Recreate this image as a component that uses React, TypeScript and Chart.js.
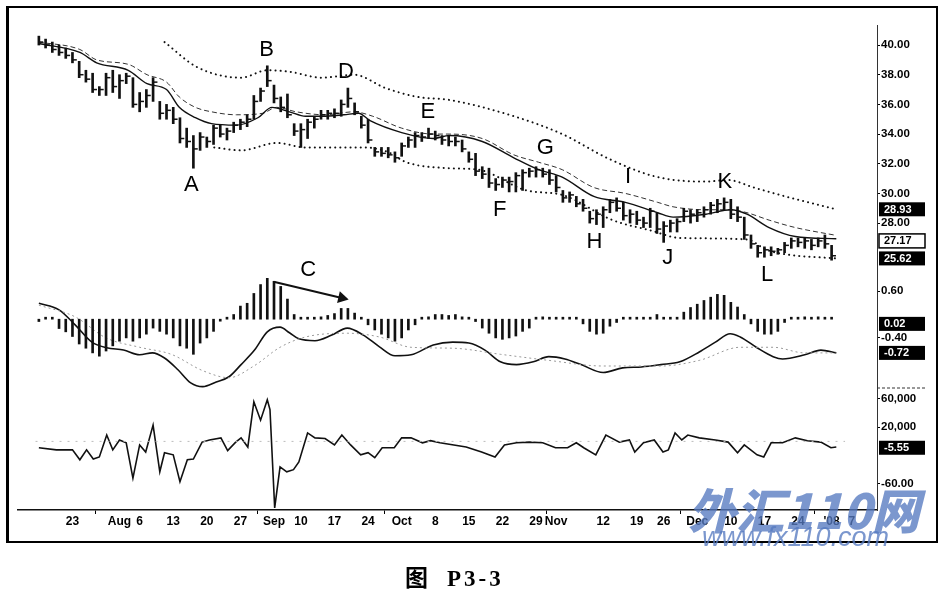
import React, { useEffect, useRef } from 'react';
import { Chart, registerables } from 'chart.js';

Chart.register(...registerables);

// one bar per trading day, index 0 = Jul 16 2007
const highs = [
  40.6, 40.4, 40.2, 40.0, 39.8, 39.5, 38.9, 38.3, 38.1, 37.2, 38.1, 38.3, 38.0, 38.1, 37.8, 36.8, 37.0, 37.8, 36.2, 36.0,
  35.8, 35.1, 34.4, 33.9, 34.1, 33.8, 34.6, 34.6, 34.4, 34.8, 35.0, 35.3, 36.6, 37.1, 38.6, 37.3, 36.5, 36.7, 34.7, 34.7,
  35.0, 35.2, 35.6, 35.6, 35.7, 36.3, 37.1, 36.1, 35.2, 35.0, 33.1, 33.1, 33.1, 32.8, 33.4, 33.8, 34.1, 34.1, 34.4, 34.2,
  33.9, 33.9, 33.8, 33.6, 32.8, 32.7, 31.8, 31.7, 31.0, 31.1, 31.1, 31.4, 31.6, 31.7, 31.8, 31.7, 31.6, 31.2, 30.2, 30.1,
  29.8, 29.6, 28.8, 28.9, 29.1, 29.6, 29.7, 29.4, 28.9, 28.8, 28.4, 29.0, 28.7, 28.1, 28.2, 28.3, 29.0, 28.9, 28.9, 29.1,
  29.4, 29.6, 29.7, 29.6, 29.1, 28.4, 27.2, 26.5, 26.4, 26.4, 26.3, 26.7, 27.0, 27.0, 27.0, 26.9, 27.0, 27.2, 26.5,
];
const lows = [
  40.0, 39.8, 39.5, 39.3, 39.1, 38.8, 37.8, 37.5, 36.8, 36.6, 36.6, 36.8, 36.4, 37.4, 35.8, 35.5, 35.8, 36.2, 35.0, 35.0,
  34.7, 33.4, 33.1, 31.7, 32.9, 33.1, 33.3, 33.8, 33.6, 34.1, 34.3, 34.5, 35.0, 36.2, 37.2, 36.1, 35.5, 35.1, 33.9, 33.1,
  33.7, 34.4, 35.0, 35.0, 35.1, 35.2, 35.8, 35.3, 34.4, 33.4, 32.5, 32.5, 32.4, 32.1, 32.5, 33.1, 33.1, 33.5, 33.7, 33.6,
  33.3, 33.2, 33.2, 32.8, 32.1, 31.2, 31.0, 30.4, 30.2, 30.4, 30.1, 30.1, 30.2, 31.1, 31.1, 31.1, 30.6, 30.1, 29.4, 29.4,
  29.1, 28.8, 28.0, 27.9, 27.7, 28.7, 28.8, 28.2, 28.0, 27.9, 27.7, 27.7, 27.3, 26.7, 27.4, 27.4, 28.1, 28.0, 28.1, 28.4,
  28.6, 28.7, 28.9, 28.3, 28.1, 26.9, 26.3, 25.7, 25.7, 25.8, 25.9, 26.0, 26.3, 26.4, 26.3, 26.2, 26.4, 26.3, 25.5,
];
const closes = [
  40.2, 40.0, 39.7, 39.5, 39.3, 39.0, 38.0, 37.7, 37.0, 37.0, 37.8, 37.2, 37.6, 37.9, 36.0, 36.2, 36.6, 37.5, 35.4, 35.6,
  35.0, 33.7, 33.5, 33.0, 33.8, 33.5, 34.4, 34.0, 34.2, 34.6, 34.8, 35.0, 36.2, 36.9, 37.6, 36.4, 35.8, 35.3, 34.2, 34.3,
  34.8, 35.0, 35.3, 35.4, 35.4, 36.0, 36.4, 35.5, 34.6, 33.6, 32.8, 32.7, 32.6, 32.4, 33.2, 33.6, 33.9, 33.8, 34.0, 33.9,
  33.6, 33.5, 33.5, 33.0, 32.3, 31.5, 31.3, 30.7, 30.6, 30.9, 30.8, 31.2, 31.4, 31.5, 31.6, 31.3, 30.9, 30.4, 29.7, 29.9,
  29.3, 29.0, 28.3, 28.6, 28.9, 29.4, 29.0, 28.5, 28.6, 28.2, 28.0, 28.8, 27.6, 27.8, 28.0, 28.1, 28.8, 28.6, 28.7, 28.9,
  29.2, 29.3, 29.4, 28.6, 28.4, 27.2, 26.6, 26.0, 26.2, 26.1, 26.2, 26.5, 26.8, 26.7, 26.8, 26.5, 26.8, 26.6, 25.8,
];

// [bar index, value]
const maFast = [
  [0, 40.1], [6.1, 39.5], [8.6, 38.8], [13.3, 38.3], [16.1, 37.4], [19, 37.0], [20.9, 35.8], [23.3, 35.1], [25.7, 34.7],
  [29.4, 34.6], [32.6, 35.1], [34.7, 35.8], [37.3, 35.5], [39.7, 35.2], [42.1, 35.2], [45.4, 35.3], [47.6, 35.4],
  [49.3, 34.9], [54, 34.1], [58.7, 33.7], [61.1, 33.9], [66, 33.5], [70.7, 32.4], [74.4, 31.6], [77.9, 31.1],
  [82.6, 29.8], [87.3, 29.4], [92.1, 28.7], [94.4, 28.4], [99.3, 28.6], [103, 28.9], [105.4, 28.6], [108.7, 27.7],
  [112.6, 27.1], [118.7, 26.95],
];
const maSlow = [
  [0, 40.2], [6.1, 39.7], [8.6, 39.0], [13.3, 38.7], [16.1, 38.0], [19, 37.5], [20.9, 36.5], [23.3, 35.8], [25.7, 35.5],
  [29.4, 35.3], [33.3, 35.4], [35.4, 35.8], [38.3, 35.5], [42.6, 35.3], [46.9, 35.5], [49.7, 35.2], [54, 34.4],
  [58.7, 34.0], [61.1, 34.0], [66, 33.7], [70.7, 32.6], [74.4, 32.1], [77.9, 31.6], [82.6, 30.4], [87.3, 30.0],
  [92.1, 29.4], [94.4, 29.1], [99.3, 28.9], [103, 28.9], [105.4, 28.7], [108.7, 28.2], [112.6, 27.7], [118.7, 27.17],
];
const upperBand = [
  [18.7, 40.2], [23.6, 38.5], [30.1, 37.8], [34, 38.3], [37.3, 38.2], [42.1, 37.8], [46.9, 38.0], [51.6, 37.1],
  [56.4, 36.5], [61.1, 36.3], [70.7, 35.2], [77.9, 34.0], [85, 32.3], [92.1, 31.1], [99.3, 30.8], [102.6, 30.9],
  [106.4, 30.4], [111.1, 29.8], [118.7, 28.93],
];
const lowerBand = [
  [26.1, 33.1], [30.1, 32.9], [35.4, 33.4], [39.7, 33.1], [48.3, 33.1], [51.9, 32.8], [54.7, 32.1], [61.1, 31.7],
  [65.4, 31.6], [72.6, 30.2], [77.9, 29.9], [85.4, 28.2], [91.1, 27.5], [95.4, 27.0], [105.4, 26.9], [108.3, 26.2],
  [111.1, 25.9], [118.7, 25.62],
];

const histogram = [
  -0.05, 0.02, 0.02, -0.2, -0.27, -0.37, -0.53, -0.62, -0.72, -0.79, -0.68, -0.57, -0.47, -0.4, -0.47, -0.4, -0.32, -0.19, -0.26, -0.32,
  -0.4, -0.57, -0.62, -0.75, -0.51, -0.4, -0.26, -0.04, 0.02, 0.1, 0.28, 0.34, 0.55, 0.74, 0.96, 0.81, 0.7, 0.43, 0.1, 0.03,
  0.02, 0.03, 0.05, 0.08, 0.12, 0.23, 0.23, 0.13, 0.03, -0.12, -0.23, -0.32, -0.4, -0.47, -0.4, -0.23, -0.12, 0.02, 0.05, 0.1,
  0.1, 0.08, 0.1, 0.05, 0.03, -0.05, -0.19, -0.3, -0.4, -0.43, -0.4, -0.36, -0.26, -0.19, 0.02, 0.05, 0.02, 0.03, 0.02, 0.02,
  0.02, -0.1, -0.26, -0.32, -0.3, -0.15, -0.07, 0.02, 0.02, 0.03, 0.02, 0.02, 0.1, 0.02, 0.02, 0.03, 0.15, 0.25, 0.32, 0.4,
  0.47, 0.53, 0.51, 0.36, 0.26, 0.1, -0.1, -0.26, -0.32, -0.32, -0.26, -0.07, 0.02, 0.02, 0.05, 0.02, 0.05, 0.04, 0.02,
];
const macdLine = [
  [0, 0.34], [3, 0.2], [5.4, -0.12], [7.9, -0.49], [10.1, -0.61], [12.6, -0.66], [15, -0.76], [16.9, -0.72], [18.7, -0.83],
  [20.7, -1.08], [22.6, -1.36], [24.4, -1.44], [26.4, -1.34], [28.3, -1.23], [30.1, -0.97], [32.1, -0.66], [34, -0.27],
  [35.9, -0.17], [37.3, -0.29], [38.7, -0.42], [41.1, -0.46], [43.6, -0.34], [45.9, -0.19], [48.3, -0.34], [50.7, -0.59],
  [53, -0.78], [55.4, -0.76], [58.7, -0.55], [61.6, -0.49], [64, -0.51], [66.4, -0.66], [68.7, -0.91], [71.1, -0.97],
  [73.6, -0.91], [75.9, -0.8], [78.3, -0.85], [80.7, -0.97], [84, -1.14], [86.9, -1.04], [89.7, -1.02], [92.6, -0.97],
  [95.4, -0.91], [98.3, -0.7], [100.7, -0.49], [102.9, -0.31], [104.4, -0.38], [106.9, -0.61], [109.3, -0.8],
  [110.7, -0.85], [114, -0.76], [116.4, -0.66], [118.7, -0.72],
];
const signalLine = [
  [0, 0.3], [5.4, 0.05], [10, -0.4], [15, -0.6], [19.7, -0.75], [24.4, -1.1], [28.3, -1.25], [32, -1.0], [35.9, -0.6],
  [39.7, -0.38], [45.9, -0.3], [50.7, -0.38], [55.4, -0.6], [61.6, -0.62], [68.7, -0.75], [75.9, -0.88], [84, -1.0],
  [92.6, -1.0], [98.3, -0.88], [104.4, -0.6], [109.3, -0.6], [114, -0.72], [118.7, -0.72],
];
const oscillator = [
  [0, -9], [2.6, -12], [5, -12], [6.1, -26], [7.1, -12], [8.1, -25], [9, -22], [10.1, 9], [11, -12], [12, 2], [13, -2],
  [14, -52], [15, -5], [15.9, -15], [17, 23], [18, -43], [18.7, -16], [20, -19], [21, -57], [22.1, -26], [23, -25],
  [24.3, -1], [25.4, 2], [27.1, 5], [28.1, -13], [29.3, -1], [30.1, 5], [31.1, -8], [32, 56], [33, 30], [34, 59],
  [34.4, 45], [35.1, -94], [35.9, -36], [36.9, -43], [37.9, -40], [38.7, -29], [40, 12], [41.1, 5], [42.6, 4], [44, -5],
  [45.1, 9], [46.4, -5], [47.9, -19], [49, -16], [50, -23], [51.1, -9], [52.9, -9], [54, 5], [55.4, 5], [57.1, -2],
  [58.3, 1], [59.7, -2], [63.6, -8], [65.9, -15], [67.9, -22], [69.3, -5], [71.1, -2], [73, -1], [75, -2], [76.9, -9],
  [78.7, -9], [80, -2], [81.1, -9], [82.9, -19], [84.4, 9], [86.4, -1], [87.9, 2], [88.7, -15], [90, -2], [91.6, 2],
  [92.9, -15], [93.7, -12], [94.7, 12], [95.7, 2], [96.6, 9], [98.3, 5], [100.7, 2], [102.6, -1], [104, -16], [105, -5],
  [106.9, -19], [107.9, -22], [109, -2], [110.7, -2], [112.6, 5], [114.4, 1], [116.4, -1], [117.9, -9], [118.7, -8],
];

const xTickIdx = [5, 12, 15, 20, 25, 30, 35, 39, 44, 49, 54, 59, 64, 69, 74, 77, 84, 89, 93, 98, 103, 108, 113, 118, 121];
const xTickText = ['23', 'Aug', '6', '13', '20', '27', 'Sep', '10', '17', '24', 'Oct', '8', '15', '22', '29', 'Nov', '12', '19', '26', 'Dec', '10', '17', '24', "'08", '7'];
const monthIdx = [12, 35, 54, 77, 98, 118];

const priceTicks = [40, 38, 36, 34, 32, 30, 28];
const macdTicks = [0.6, -0.4];
const macdTickText = ['0.60', '-0.40'];
const oscTicks = [60, 20, -60];
const oscTickText = ['60,000', '20,000', '-60.00'];

// letters on the price panel: [text, bar index, price]
const letters = [
  ['A', 22.7, 30.57], ['B', 33.9, 39.67], ['C', 40.1, 24.84], ['D', 45.7, 38.18], ['E', 57.9, 35.49], ['F', 68.6, 28.88],
  ['G', 75.4, 33.06], ['H', 82.7, 26.73], ['I', 87.7, 31.11], ['J', 93.6, 25.65], ['K', 102.1, 30.77], ['L', 108.4, 24.5],
];
const arrowC = [[35.1, 0.795], [45.1, 0.453]];

// last-value boxes on the right axis: [axis, position, text, dark]
const valueBoxes = [
  ['yP', 28.93, '28.93', true], ['yP', 26.8, '27.17', false], ['yP', 25.62, '25.62', true],
  ['yM', -0.1, '0.02', true], ['yM', -0.72, '-0.72', true], ['yO', -9, '-5.55', true],
];

const FONT = '"Liberation Sans", Arial, sans-serif';
const pts = (a: number[][]) => a.map(([x, y]) => ({ x, y }));

const overlay = {
  id: 'overlay',
  afterDatasetsDraw(chart: any) {
    const { ctx, scales } = chart;
    ctx.save();
    ctx.fillStyle = '#000';
    ctx.font = `22px ${FONT}`;
    ctx.textAlign = 'center';
    ctx.textBaseline = 'middle';
    letters.forEach(([t, x, y]: any) => {
      ctx.fillText(t, scales.x.getPixelForValue(x), scales.yP.getPixelForValue(y));
    });
    ctx.restore();
  },
  afterDraw(chart: any) {
    const { ctx, scales, chartArea } = chart;
    ctx.save();
    const left = chartArea.right + 2;
    ctx.font = `bold 11px ${FONT}`;
    ctx.textBaseline = 'middle';
    ctx.textAlign = 'left';
    valueBoxes.forEach(([axis, at, text, dark]: any) => {
      const y = scales[axis].getPixelForValue(at);
      ctx.fillStyle = dark ? '#000' : '#fff';
      ctx.fillRect(left, y - 7, 46, 14);
      if (!dark) {
        ctx.strokeStyle = '#000';
        ctx.lineWidth = 1.5;
        ctx.strokeRect(left, y - 7, 46, 14);
      }
      ctx.fillStyle = dark ? '#fff' : '#000';
      ctx.fillText(text, left + 5, y + 0.5);
    });
    // separator between the two lower panels in the axis column
    const sep = scales.yO.top;
    ctx.strokeStyle = '#333';
    ctx.lineWidth = 1;
    ctx.setLineDash([3, 2]);
    ctx.beginPath();
    ctx.moveTo(chartArea.right, sep);
    ctx.lineTo(chartArea.right + 48, sep);
    ctx.stroke();
    ctx.restore();
  },
};

const yAxis = (stackWeight: number, min: number, max: number, ticks: number[], label: (v: number) => string) => ({
  type: 'linear',
  position: 'right',
  stack: 'panels',
  stackWeight,
  min,
  max,
  afterBuildTicks: (s: any) => {
    s.ticks = ticks.map((value) => ({ value }));
  },
  afterFit: (s: any) => {
    s.width = 58;
  },
  ticks: { callback: (v: number) => label(v), color: '#000', padding: 1, font: { family: FONT, size: 11.5, weight: 'bold' } },
  grid: { drawOnChartArea: false, tickLength: 3, color: '#000' },
  border: { color: '#333', width: 1, dash: [2, 2] },
});

export default function App() {
  const canvasRef = useRef<HTMLCanvasElement>(null);

  useEffect(() => {
    if (!canvasRef.current) return;
    const chart = new Chart(canvasRef.current, {
      type: 'bar',
      data: {
        datasets: [
          {
            type: 'bar',
            data: highs.map((h, i) => ({ x: i, y: [lows[i], h] })),
            backgroundColor: '#111',
            barThickness: 2,
            grouped: false,
            yAxisID: 'yP',
          },
          {
            type: 'line',
            data: closes.map((c, i) => ({ x: i + 0.35, y: c })),
            showLine: false,
            pointStyle: 'line',
            pointRadius: 2,
            borderColor: '#111',
            borderWidth: 1.5,
            yAxisID: 'yP',
          },
          {
            type: 'line',
            data: pts(maFast),
            borderColor: '#111',
            borderWidth: 1.4,
            pointRadius: 0,
            cubicInterpolationMode: 'monotone',
            yAxisID: 'yP',
          },
          {
            type: 'line',
            data: pts(maSlow),
            borderColor: '#333',
            borderWidth: 1,
            borderDash: [5, 3],
            pointRadius: 0,
            cubicInterpolationMode: 'monotone',
            yAxisID: 'yP',
          },
          {
            type: 'line',
            data: pts(upperBand),
            borderColor: '#111',
            borderWidth: 2,
            borderDash: [0.1, 5],
            borderCapStyle: 'round',
            pointRadius: 0,
            cubicInterpolationMode: 'monotone',
            yAxisID: 'yP',
          },
          {
            type: 'line',
            data: pts(lowerBand),
            borderColor: '#111',
            borderWidth: 2,
            borderDash: [0.1, 5],
            borderCapStyle: 'round',
            pointRadius: 0,
            cubicInterpolationMode: 'monotone',
            yAxisID: 'yP',
          },
          {
            type: 'bar',
            data: histogram.map((v, i) => ({ x: i, y: v })),
            backgroundColor: '#111',
            barThickness: 2,
            minBarLength: 2,
            grouped: false,
            yAxisID: 'yM',
          },
          {
            type: 'line',
            data: pts(signalLine),
            borderColor: '#999',
            borderWidth: 1,
            borderDash: [2, 3],
            pointRadius: 0,
            cubicInterpolationMode: 'monotone',
            yAxisID: 'yM',
          },
          {
            type: 'line',
            data: pts(macdLine),
            borderColor: '#111',
            borderWidth: 1.6,
            pointRadius: 0,
            cubicInterpolationMode: 'monotone',
            yAxisID: 'yM',
          },
          {
            type: 'line',
            data: pts(arrowC),
            borderColor: '#111',
            borderWidth: 2,
            pointRadius: [0, 5],
            pointStyle: 'triangle',
            rotation: 103,
            backgroundColor: '#111',
            yAxisID: 'yM',
          },
          {
            type: 'line',
            data: [{ x: -0.5, y: 0 }, { x: 120, y: 0 }],
            borderColor: '#bbb',
            borderWidth: 1,
            borderDash: [2, 6],
            pointRadius: 0,
            yAxisID: 'yO',
          },
          {
            type: 'line',
            data: pts(oscillator),
            borderColor: '#111',
            borderWidth: 1.6,
            pointRadius: 0,
            tension: 0,
            yAxisID: 'yO',
          },
        ],
      } as any,
      options: {
        animation: false,
        responsive: false,
        layout: { padding: { left: 18, right: 8, top: 25, bottom: 60 } },
        plugins: { legend: { display: false }, tooltip: { enabled: false } },
        scales: {
          x: {
            type: 'linear',
            min: -0.55,
            max: 122.2,
            afterBuildTicks: (s: any) => {
              s.ticks = xTickIdx.map((value) => ({ value }));
            },
            afterFit: (s: any) => {
              s.height = 30;
            },
            ticks: {
              autoSkip: false,
              maxRotation: 0,
              padding: 0,
              color: '#000',
              font: { family: FONT, size: 12, weight: 'bold' },
              callback: (v: number) => xTickText[xTickIdx.indexOf(v)] ?? '',
            },
            grid: {
              drawOnChartArea: false,
              tickLength: 4,
              color: (c: any) => (c.tick && monthIdx.includes(c.tick.value) ? '#000' : 'rgba(0,0,0,0)'),
            },
            border: { color: '#111', width: 1.5 },
          },
          yP: yAxis(253, 24.3, 41.35, priceTicks, (v) => v.toFixed(2)),
          yM: yAxis(110, -1.47, 0.88, macdTicks, (v) => macdTickText[macdTicks.indexOf(v)] ?? ''),
          yO: yAxis(122, -97, 75.5, oscTicks, (v) => oscTickText[oscTicks.indexOf(v)] ?? ''),
        },
      } as any,
      plugins: [overlay],
    });
    return () => chart.destroy();
  }, []);

  const blue = 'rgba(86, 122, 192, 0.78)';
  return (
    <div style={{ position: 'absolute', left: 0, top: 0, width: 943, height: 600, background: '#fff', overflow: 'hidden' }}>
      <canvas ref={canvasRef} width={943} height={600} style={{ position: 'absolute', left: 0, top: 0 }} />
      <div style={{ position: 'absolute', left: 6, top: 6, width: 927, height: 533, border: '2px solid #000', borderLeftWidth: 3 }} />
      <div
        style={{
          position: 'absolute', left: 688, top: 484, fontSize: 48, lineHeight: '48px', fontStyle: 'italic',
          fontWeight: 900, color: blue, fontFamily: '"Noto Sans CJK SC", sans-serif', whiteSpace: 'nowrap',
        }}
      >
        外汇110网
      </div>
      <div
        style={{
          position: 'absolute', left: 702, top: 522, fontSize: 27, lineHeight: '30px', fontStyle: 'italic',
          color: blue, fontFamily: FONT, whiteSpace: 'nowrap',
        }}
      >
        www.fx110.com
      </div>
      <div style={{ position: 'absolute', left: 405, top: 562, fontSize: 23, lineHeight: '28px', whiteSpace: 'nowrap', color: '#000' }}>
        <span style={{ fontFamily: '"Noto Sans CJK SC", sans-serif', fontWeight: 700 }}>图</span>
        <span style={{ fontFamily: '"Liberation Serif", serif', fontWeight: 700, marginLeft: 19, letterSpacing: 3 }}>P3-3</span>
      </div>
    </div>
  );
}
